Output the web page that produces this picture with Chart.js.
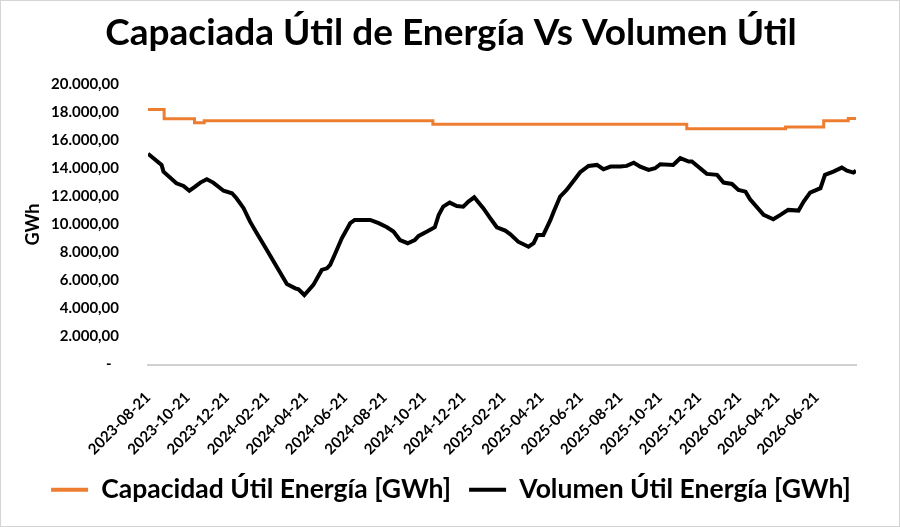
<!DOCTYPE html>
<html>
<head>
<meta charset="utf-8">
<script src="https://cdn.jsdelivr.net/npm/chart.js@4.4.0/dist/chart.umd.min.js"></script>
<style>
  html, body { margin: 0; padding: 0; background: #fff; }
  #wrap { position: relative; width: 900px; height: 527px; }
  #frame { position: absolute; left: 0; top: 0; right: 0; bottom: 0; border: 1px solid #d4d4d4; pointer-events: none; }
</style>
</head>
<body>
<div id="wrap">
  <canvas id="energiaChart" width="900" height="527"></canvas>
  <div id="frame"></div>
</div>
<script>
// x values are days counted from fechaInicio
const fechaInicio = "2023-08-21";

const etiquetasX = [
  "2023-08-21", "2023-10-21", "2023-12-21", "2024-02-21", "2024-04-21", "2024-06-21",
  "2024-08-21", "2024-10-21", "2024-12-21", "2025-02-21", "2025-04-21", "2025-06-21",
  "2025-08-21", "2025-10-21", "2025-12-21", "2026-02-21", "2026-04-21", "2026-06-21",
];

const ticksY = [0, 2000, 4000, 6000, 8000, 10000, 12000, 14000, 16000, 18000, 20000];

// Capacidad útil (step line)
const diasCapacidad = [0, 25, 72, 87, 441, 834, 987, 1046, 1084, 1096];
const capacidad = [18200, 17550, 17270, 17410, 17150, 16830, 16960, 17400, 17570, 17570];

// Volumen útil
const diasVolumen = [
  0, 21, 24, 44, 55, 64, 73, 81, 91, 101,
  117, 130, 137, 148, 158, 168, 184, 199, 215, 228,
  233, 242, 256, 269, 277, 282, 290, 300, 313, 320,
  333, 344, 357, 370, 380, 390, 402, 413, 419, 432,
  444, 450, 457, 467, 478, 488, 496, 505, 519, 530,
  540, 553, 561, 573, 589, 597, 603, 612, 623, 628,
  638, 648, 656, 669, 682, 695, 705, 716, 731, 741,
  752, 762, 775, 785, 793, 813, 824, 837, 842, 865,
  881, 891, 904, 914, 925, 932, 953, 968, 979, 991,
  1007, 1015, 1025, 1041, 1048, 1061, 1074, 1082, 1092, 1096,
];
const volumen = [
  15050, 14250, 13770, 12940, 12750, 12410, 12700, 12990, 13230, 12990,
  12410, 12230, 11870, 11160, 10200, 9410, 8180, 6990, 5750, 5440,
  5370, 4960, 5680, 6750, 6870, 7110, 7940, 9010, 10090, 10320,
  10320, 10320, 10090, 9800, 9490, 8890, 8660, 8890, 9180, 9490,
  9800, 10680, 11270, 11560, 11320, 11270, 11630, 11940, 11160, 10440,
  9800, 9560, 9300, 8770, 8410, 8660, 9250, 9250, 10320, 10910,
  11990, 12460, 12940, 13730, 14180, 14250, 13940, 14130, 14130, 14180,
  14410, 14130, 13890, 14010, 14300, 14250, 14730, 14490, 14490, 13610,
  13540, 12990, 12890, 12460, 12340, 11800, 10680, 10370, 10680, 11040,
  10990, 11630, 12270, 12590, 13540, 13770, 14060, 13840, 13700, 13840,
];

function diasDesde(fecha) {
  return Math.round((Date.parse(fecha) - Date.parse(fechaInicio)) / 86400000);
}

function formatoGWh(v) {
  if (v === 0) return "-  ";
  const entero = Math.round(v).toString().replace(/\B(?=(\d{3})+(?!\d))/g, ".");
  return entero + ",00";
}

const fuente = "Lato, 'Open Sans', sans-serif";

const ctx = document.getElementById("energiaChart").getContext("2d");
const chart = new Chart(ctx, {
  type: "line",
  data: {
    datasets: [
      {
        label: "Capacidad Útil Energía [GWh]",
        data: diasCapacidad.map((d, i) => ({ x: d, y: capacidad[i] })),
        borderColor: "#ED7D31",
        backgroundColor: "#ED7D31",
        borderWidth: 3,
        stepped: "before",
        pointRadius: 0,
      },
      {
        label: "Volumen Útil Energía [GWh]",
        data: diasVolumen.map((d, i) => ({ x: d, y: volumen[i] })),
        borderColor: "#000000",
        backgroundColor: "#000000",
        borderWidth: 4,
        tension: 0,
        pointRadius: 0,
      },
    ],
  },
  options: {
    responsive: false,
    animation: false,
    layout: { padding: { left: 2, right: 0, top: 0, bottom: 14 } },
    plugins: {
      title: {
        display: true,
        text: "Capaciada Útil de Energía Vs Volumen Útil",
        color: "#000",
        font: { family: fuente, size: 37, weight: "bold", lineHeight: 1.2 },
        padding: { top: 11, bottom: 29 },
      },
      legend: {
        position: "bottom",
        labels: {
          color: "#000",
          font: { family: fuente, size: 26.5, weight: "bold" },
          boxWidth: 37,
          boxHeight: 4,
          padding: 18,
          generateLabels: (chart) => {
            const items = Chart.defaults.plugins.legend.labels.generateLabels(chart);
            items.forEach((it) => { it.lineWidth = 0; });
            return items;
          },
        },
      },
      tooltip: { enabled: false },
    },
    scales: {
      x: {
        type: "linear",
        min: 0,
        max: diasVolumen[diasVolumen.length - 1],
        grid: { display: false },
        border: { display: true, color: "#d0d0d0", width: 2 },
        afterBuildTicks: (scale) => {
          scale.ticks = etiquetasX.map((f) => ({ value: diasDesde(f) }));
        },
        afterFit: (scale) => { scale.height = 94; },
        ticks: {
          autoSkip: false,
          minRotation: 45,
          maxRotation: 45,
          padding: 16,
          color: "#000",
          font: { family: fuente, size: 15, weight: "bold" },
          callback: (value, index) => etiquetasX[index],
        },
      },
      y: {
        min: 0,
        max: 20000,
        grid: { display: false },
        border: { display: false },
        afterBuildTicks: (scale) => {
          scale.ticks = ticksY.map((v) => ({ value: v }));
        },
        afterFit: (scale) => { scale.width = 146; },
        title: {
          display: true,
          text: "GWh",
          color: "#000",
          font: { family: fuente, size: 18, weight: "bold", lineHeight: 1.2 },
          padding: { top: 20, bottom: 0 },
        },
        ticks: {
          padding: 21,
          color: "#000",
          font: { family: fuente, size: 15, weight: "bold" },
          callback: (value) => formatoGWh(value),
        },
      },
      // empty right-hand box keeping the plot's right edge off the border
      margen: {
        type: "linear",
        position: "right",
        grid: { display: false },
        border: { display: false },
        ticks: { display: false },
        afterFit: (scale) => { scale.width = 44; },
      },
    },
  },
});
</script>
</body>
</html>
